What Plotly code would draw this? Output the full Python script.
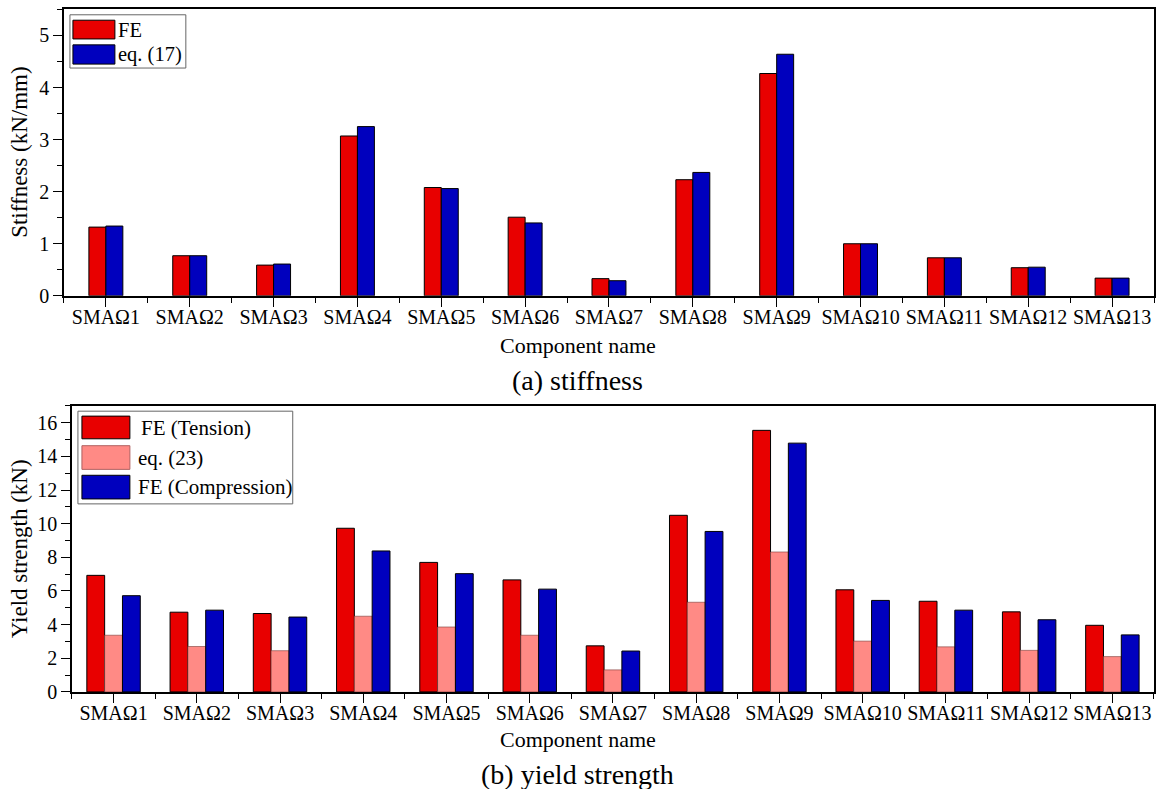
import plotly.graph_objects as go

# ---- data -------------------------------------------------------------
components = ["SMAΩ1", "SMAΩ2", "SMAΩ3", "SMAΩ4", "SMAΩ5", "SMAΩ6", "SMAΩ7",
              "SMAΩ8", "SMAΩ9", "SMAΩ10", "SMAΩ11", "SMAΩ12", "SMAΩ13"]

stiffness_fe = [1.32, 0.77, 0.59, 3.07, 2.08, 1.51, 0.33, 2.23, 4.27, 1.00, 0.73, 0.54, 0.34]
stiffness_eq17 = [1.34, 0.77, 0.61, 3.25, 2.06, 1.40, 0.29, 2.37, 4.64, 1.00, 0.73, 0.55, 0.34]

yield_fe_tension = [6.93, 4.74, 4.66, 9.73, 7.70, 6.66, 2.74, 10.50, 15.55, 6.07, 5.39, 4.76, 3.96]
yield_eq23 = [3.37, 2.70, 2.45, 4.50, 3.86, 3.37, 1.31, 5.33, 8.32, 3.02, 2.68, 2.47, 2.10]
yield_fe_compression = [5.72, 4.86, 4.45, 8.38, 7.03, 6.11, 2.43, 9.54, 14.79, 5.44, 4.86, 4.29, 3.39]

# ---- styling ----------------------------------------------------------
W, H = 1156, 789
FONT = "Liberation Serif"
RED = "#E80000"
PINK = "#FF8A85"
BLUE = "#0000BE"


def px(x):
    return x / W


def py(y):
    return 1 - y / H


xidx = list(range(len(components)))

fig = go.Figure()

# (a) stiffness
fig.add_trace(go.Bar(x=xidx, y=stiffness_fe, name="FE", marker_color=RED,
                     marker_line=dict(color="black", width=1),
                     xaxis="x", yaxis="y", showlegend=False))
fig.add_trace(go.Bar(x=xidx, y=stiffness_eq17, name="eq. (17)", marker_color=BLUE,
                     marker_line=dict(color="black", width=1),
                     xaxis="x", yaxis="y", showlegend=False))

# (b) yield strength: three bars per component, placed side by side
bar_w = 0.214
offsets = [-1.5 * bar_w, -0.5 * bar_w, 0.5 * bar_w]
fig.add_trace(go.Bar(x=xidx, y=yield_fe_tension, name="FE (Tension)", marker_color=RED,
                     marker_line=dict(color="black", width=1), width=bar_w, offset=offsets[0],
                     xaxis="x2", yaxis="y2", showlegend=False))
fig.add_trace(go.Bar(x=xidx, y=yield_eq23, name="eq. (23)", marker_color=PINK,
                     marker_line=dict(color="#7a3a38", width=0.6), width=bar_w, offset=offsets[1],
                     xaxis="x2", yaxis="y2", showlegend=False))
fig.add_trace(go.Bar(x=xidx, y=yield_fe_compression, name="FE (Compression)", marker_color=BLUE,
                     marker_line=dict(color="black", width=1), width=bar_w, offset=offsets[2],
                     xaxis="x2", yaxis="y2", showlegend=False))

tickfont = dict(family=FONT, size=20, color="black")

xcommon = dict(
    range=[-0.5, len(components) - 0.5],
    tickmode="array", tickvals=xidx, ticktext=components,
    ticks="outside", ticklen=9, tickwidth=1, tickcolor="black",
    ticklabelstandoff=-7,
    minor=dict(tickmode="linear", tick0=0.5, dtick=1, ticks="outside",
               ticklen=5, tickwidth=1, tickcolor="black"),
    showline=True, linecolor="black", linewidth=1.5, mirror=True,
    showgrid=False, zeroline=False, tickfont=tickfont, fixedrange=True,
)
ycommon = dict(
    ticks="outside", ticklen=9, tickwidth=1, tickcolor="black",
    showline=True, linecolor="black", linewidth=1.5, mirror=True,
    showgrid=False, zeroline=False, tickfont=tickfont, fixedrange=True,
)

fig.update_layout(
    width=W, height=H,
    margin=dict(l=0, r=0, t=0, b=0),
    paper_bgcolor="white", plot_bgcolor="white",
    barmode="group",
    font=dict(family=FONT, color="black"),
    xaxis=dict(domain=[px(64), px(1155)], anchor="y", **xcommon),
    yaxis=dict(domain=[py(300), py(9.6)], anchor="x", range=[0, 5.5], dtick=1,
               minor=dict(dtick=0.5, ticks="outside", ticklen=5, tickwidth=1, tickcolor="black"),
               **ycommon),
    xaxis2=dict(domain=[px(72), px(1155)], anchor="y2", **xcommon),
    yaxis2=dict(domain=[py(701.7), py(411.7)], anchor="x2", range=[0, 17], dtick=2,
                minor=dict(dtick=1, ticks="outside", ticklen=5, tickwidth=1, tickcolor="black"),
                **ycommon),
    bargap=0.595,
    bargroupgap=0,
)

annotations = []
shapes = []


def text(x, y, s, size, angle=0, xanchor="center"):
    annotations.append(dict(x=px(x), y=py(y), xref="paper", yref="paper", text=s,
                            showarrow=False, textangle=angle, xanchor=xanchor,
                            yanchor="middle", borderpad=0,
                            font=dict(family=FONT, size=size, color="black")))


# axis titles and panel captions
text(20, 154, "Stiffness (kN/mm)", 23, angle=-90)
text(578, 350, "Component name", 22)
text(578, 386, "(a) stiffness", 28)
text(19, 556, "Yield strength (kN)", 23, angle=-90)
text(578, 750, "Component name", 22)
text(578, 785, "(b) yield strength", 28)


def rect(x0, y0, x1, y1, fill, line="black", lw=1):
    shapes.append(dict(type="rect", xref="paper", yref="paper",
                       x0=px(x0), x1=px(x1), y0=py(y1), y1=py(y0),
                       fillcolor=fill, line=dict(color=line, width=lw)))


# legend for (a)
rect(70, 15, 186, 69, "white", line="#666", lw=1)
rect(73, 20.5, 115, 39.5, RED)
rect(73, 45.5, 115, 65, BLUE)
text(117, 30, "FE", 20.5, xanchor="left")
text(117, 55, "eq. (17)", 20.5, xanchor="left")

# legend for (b)
rect(78, 417, 293, 511, "white", line="#666", lw=1)
rect(82, 422, 130, 445, RED)
rect(82, 452, 130, 476, PINK, line="#b06060")
rect(82, 482, 130, 506, BLUE)
text(140, 434, "FE (Tension)", 21, xanchor="left")
text(137, 464, "eq. (23)", 21, xanchor="left")
text(137, 494, "FE (Compression)", 21, xanchor="left")

fig.update_layout(annotations=annotations, shapes=shapes)

fig.write_html("out.html")
